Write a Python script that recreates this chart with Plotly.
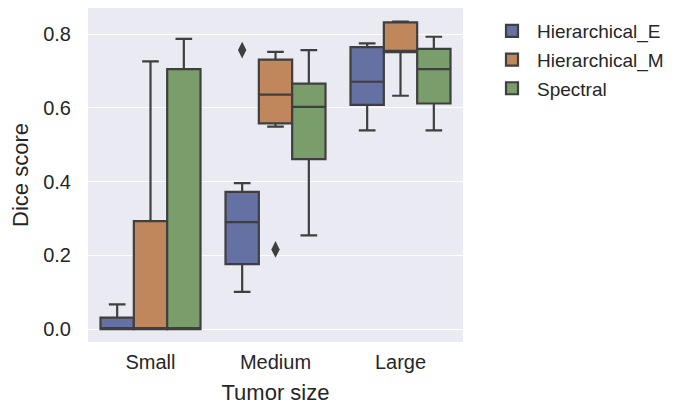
import plotly.graph_objects as go

categories = ["Small", "Medium", "Large"]
methods = ["Hierarchical_E", "Hierarchical_M", "Spectral"]
colors = ["#6671A3", "#C1875C", "#7A9E6B"]

# box statistics per method, one value per category
lower = {
    "Hierarchical_E": [0.0, 0.101, 0.539],
    "Hierarchical_M": [0.0, 0.549, 0.633],
    "Spectral": [0.0, 0.254, 0.539],
}
q1 = {
    "Hierarchical_E": [0.0, 0.176, 0.608],
    "Hierarchical_M": [0.0, 0.558, 0.751],
    "Spectral": [0.0, 0.461, 0.612],
}
median = {
    "Hierarchical_E": [0.0, 0.290, 0.671],
    "Hierarchical_M": [0.0, 0.636, 0.755],
    "Spectral": [0.0, 0.603, 0.705],
}
q3 = {
    "Hierarchical_E": [0.031, 0.372, 0.765],
    "Hierarchical_M": [0.293, 0.731, 0.832],
    "Spectral": [0.705, 0.666, 0.760],
}
upper = {
    "Hierarchical_E": [0.067, 0.396, 0.775],
    "Hierarchical_M": [0.726, 0.752, 0.834],
    "Spectral": [0.787, 0.757, 0.793],
}
outlier_method = ["Hierarchical_E", "Hierarchical_M"]
outlier_category = ["Medium", "Medium"]
outlier_value = [0.757, 0.216]

ytick_vals = [0.0, 0.2, 0.4, 0.6, 0.8]
ytick_text = ["0.0", "0.2", "0.4", "0.6", "0.8"]

edge = "#3F3F3F"
group_width = 0.8
bw = group_width / len(methods)

def xpos(cat_idx, m_idx):
    return cat_idx + (m_idx - (len(methods) - 1) / 2) * bw

fig = go.Figure()
for mi, m in enumerate(methods):
    fig.add_trace(go.Box(
        name=m,
        legendgroup=m,
        x=[xpos(ci, mi) for ci in range(len(categories))],
        q1=q1[m], median=median[m], q3=q3[m],
        lowerfence=lower[m], upperfence=upper[m],
        width=bw,
        fillcolor=colors[mi],
        line=dict(color=edge, width=2.2),
        whiskerwidth=0.5,
        boxpoints=False,
        showlegend=True,
    ))

fig.add_trace(go.Scatter(
    x=[xpos(categories.index(c), methods.index(m)) for c, m in zip(outlier_category, outlier_method)],
    y=outlier_value,
    mode="markers",
    marker=dict(symbol="diamond-tall", size=12, color=edge),
    showlegend=False,
    hoverinfo="y",
))

font_family = "Liberation Sans, Arial, sans-serif"
fig.update_layout(
    width=666, height=400,
    margin=dict(l=80, r=211, t=0, b=66, autoexpand=False),
    paper_bgcolor="white",
    plot_bgcolor="#EAEAF2",
    boxmode="overlay",
    font=dict(family=font_family, size=20, color="#262626"),
    showlegend=True,
    legend=dict(
        x=1.064, xanchor="left", y=0.988, yanchor="top",
        font=dict(size=19, color="#262626"),
        bgcolor="rgba(0,0,0,0)",
        traceorder="grouped",
        tracegroupgap=1,
        itemwidth=40,
    ),
)
fig.update_xaxes(
    range=[-0.5, 2.5],
    tickmode="array",
    tickvals=list(range(len(categories))),
    ticktext=categories,
    showgrid=False, zeroline=False, showline=False,
    ticks="", ticklabelstandoff=6,
    tickfont=dict(size=20),
    automargin=True,
    title=dict(text="Tumor size", font=dict(size=22), standoff=12),
)
fig.update_yaxes(
    range=[-0.035, 0.871],
    tickmode="array",
    tickvals=ytick_vals,
    ticktext=ytick_text,
    showgrid=True, gridcolor="white", gridwidth=1.3,
    zeroline=False, showline=False,
    ticks="", ticklabelstandoff=16,
    tickfont=dict(size=20),
    automargin=True,
    title=dict(text="Dice score", font=dict(size=22), standoff=8),
)

fig.write_html("out.html")
